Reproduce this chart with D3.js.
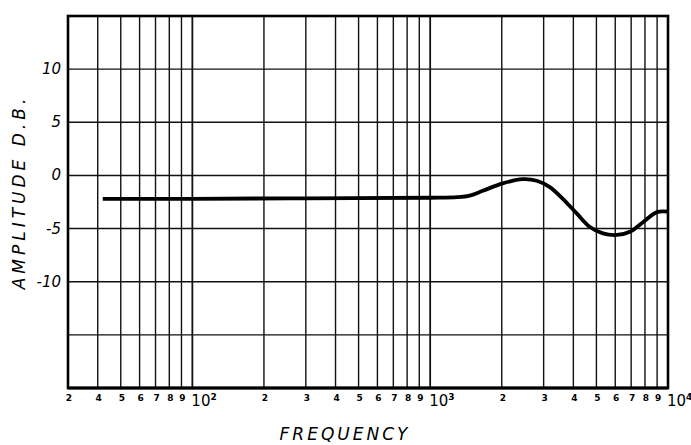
<!DOCTYPE html>
<html><head><meta charset="utf-8">
<script src="https://cdn.jsdelivr.net/npm/d3@7"></script>
<style>body{margin:0;background:#fff}svg{display:block}</style>
</head><body>
<svg id="c" width="691" height="445"></svg>
<script>
const freq = [42, 100, 300, 1000, 1300, 1466, 1663, 2018, 2449, 2806, 3184, 3612, 4140, 4697, 5324, 6098, 6920, 7850, 8990, 10000];
const ampDB = [-2.2, -2.2, -2.15, -2.1, -2.05, -1.9, -1.45, -0.75, -0.35, -0.5, -1.1, -2.2, -3.6, -4.85, -5.45, -5.6, -5.3, -4.4, -3.45, -3.4];
const yTicks = [10, 5, 0, -5, -10];
const yGrid = [10, 5, 0, -5, -10, -15];
const xTickValues = [30, 40, 50, 60, 70, 80, 90, 200, 300, 400, 500, 600, 700, 800, 900, 2000, 3000, 4000, 5000, 6000, 7000, 8000, 9000];
const xTickLabels = ["2", "4", "5", "6", "7", "8", "9", "2", "3", "4", "5", "6", "7", "8", "9", "2", "3", "4", "5", "6", "7", "8", "9"];
const decades = [100, 1000, 10000];
const decadeLabels = ["2", "3", "4"];

const svg = d3.select("#c");
const L = 68, R = 668, T = 16, B = 388;
const x = d3.scaleLog().domain([30, 10000]).range([L, R]);
const y = d3.scaleLinear().domain([-20, 15]).range([B, T]);

const g = svg.append("g");
// vertical grid
const vlines = [];
for (let d = 10; d < 10000; d *= 10) for (let m = 1; m <= 9; m++) { const v = d * m; if (v > 30 && v < 10000) vlines.push(v); }
g.selectAll(".vl").data(vlines).join("line")
  .attr("x1", d => x(d)).attr("x2", d => x(d)).attr("y1", T).attr("y2", B)
  .attr("stroke", "#111").attr("stroke-width", d => decades.includes(d) ? 1.8 : 1.4);
// horizontal grid
g.selectAll(".hl").data(yGrid).join("line")
  .attr("x1", L).attr("x2", R).attr("y1", d => y(d)).attr("y2", d => y(d))
  .attr("stroke", "#111").attr("stroke-width", 1.4);
// frame
g.append("rect").attr("x", L).attr("y", T).attr("width", R - L).attr("height", B - T)
  .attr("fill", "none").attr("stroke", "#000").attr("stroke-width", 2.6);
g.append("line").attr("x1", L).attr("x2", R).attr("y1", B).attr("y2", B).attr("stroke", "#000").attr("stroke-width", 3.2);

// curve
const data = freq.map((f, i) => [f, ampDB[i]]);
g.append("path").datum(data)
  .attr("d", d3.line().x(d => x(d[0])).y(d => y(d[1])).curve(d3.curveCatmullRom.alpha(0.5)))
  .attr("fill", "none").attr("stroke", "#000").attr("stroke-width", 3.8).attr("stroke-linecap", "butt");

const font = "'DejaVu Sans', sans-serif";
// y tick labels
g.selectAll(".yt").data(yTicks).join("text")
  .attr("x", L - 7).attr("y", d => y(d) + 5)
  .attr("text-anchor", "end").attr("font-family", font).attr("font-size", 15).attr("font-style", "italic")
  .attr("fill", "#000").text(d => String(d));
// x tick labels
g.selectAll(".xt").data(xTickValues).join("text")
  .attr("x", d => x(d) + 1).attr("y", B + 13)
  .attr("text-anchor", "middle").attr("font-family", font).attr("font-size", 9).attr("font-weight", "bold")
  .attr("fill", "#000").text((d, i) => xTickLabels[i]);
// decade labels 10^n
decades.forEach((d, i) => {
  const t = g.append("text").attr("x", x(d) - 1).attr("y", B + 18)
    .attr("font-family", font).attr("font-size", 15).attr("fill", "#000");
  t.append("tspan").text("10");
  t.append("tspan").attr("dy", -6).attr("font-size", 9).attr("font-weight", "bold").text(decadeLabels[i]);
});

// axis titles
svg.append("text").attr("x", 345).attr("y", 440).attr("text-anchor", "middle")
  .attr("font-family", font).attr("font-size", 17).attr("font-style", "italic").attr("letter-spacing", 3)
  .attr("fill", "#000").text("FREQUENCY");
svg.append("text").attr("transform", "translate(25,192) rotate(-90)").attr("text-anchor", "middle")
  .attr("font-family", font).attr("font-size", 17).attr("font-style", "italic").attr("letter-spacing", 4)
  .attr("fill", "#000").text("AMPLITUDE  D.B.");
</script>
</body></html>
